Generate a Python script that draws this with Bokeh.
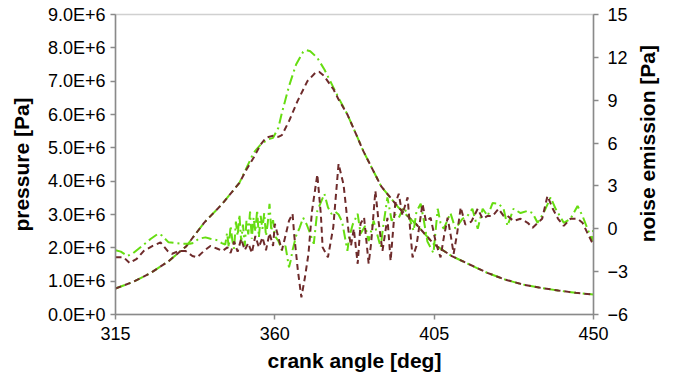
import math
from bokeh.plotting import figure
from bokeh.layouts import row
from bokeh.models import Range1d, LinearAxis, FixedTicker, CustomJSTickFormatter, Label
from bokeh.embed import file_html
from bokeh.resources import INLINE

# ---------------- data ----------------
# cylinder pressure, case A (green dash-dot)
press_a_angle = [315, 320, 325, 330, 335, 340, 345, 350, 352, 354, 356, 358, 359.5, 361, 362, 364,
                 366, 368, 369, 370, 372, 374, 376.6, 378, 380.5, 383.4, 385, 390, 395, 400, 405,
                 410, 415, 420, 425, 430, 435, 440, 445, 450]
press_a = [0.78e6, 0.98e6, 1.25e6, 1.6e6, 2.05e6, 2.75e6, 3.3e6, 3.95e6, 4.4e6, 4.85e6, 5.1e6,
           5.25e6, 5.3e6, 5.6e6, 6.05e6, 6.85e6, 7.5e6, 7.88e6, 7.93e6, 7.9e6, 7.7e6, 7.35e6,
           6.8e6, 6.5e6, 6.0e6, 5.3e6, 4.9e6, 3.85e6, 3.2e6, 2.7e6, 2.1e6, 1.75e6, 1.5e6, 1.25e6,
           1.05e6, 0.9e6, 0.8e6, 0.72e6, 0.65e6, 0.6e6]

# cylinder pressure, case B (brown dashed)
press_b_angle = [315, 320, 325, 330, 335, 340, 345, 350, 352, 354, 356, 357.5, 359.3, 361, 362,
                 364, 366.4, 369.2, 371.5, 372.5, 373.8, 376.6, 378, 380.5, 383.4, 385, 390, 395,
                 400, 405, 410, 415, 420, 425, 430, 435, 440, 445, 450]
press_b = [0.78e6, 0.98e6, 1.25e6, 1.6e6, 2.05e6, 2.75e6, 3.3e6, 3.95e6, 4.35e6, 4.7e6, 5.1e6,
           5.3e6, 5.36e6, 5.33e6, 5.38e6, 5.8e6, 6.4e6, 7.0e6, 7.26e6, 7.28e6, 7.17e6, 6.75e6,
           6.45e6, 6.0e6, 5.3e6, 4.9e6, 3.85e6, 3.2e6, 2.7e6, 2.1e6, 1.75e6, 1.5e6, 1.25e6,
           1.05e6, 0.9e6, 0.8e6, 0.72e6, 0.65e6, 0.6e6]

# noise emission, case A (green dash-dot)
noise_a_angle = [315, 316.5, 318.4, 320, 321, 323, 325, 327, 328, 330, 332, 334, 336, 337, 338.5,
                 340.4, 341.8, 343.8, 345, 346, 346.5, 347, 347.5, 348, 348.5, 349, 349.5, 350,
                 350.5, 351, 351.5, 352, 352.5, 353, 353.5, 354, 354.5, 355, 355.5, 356, 356.5,
                 357, 357.5, 358, 358.5, 359, 359.5, 360, 361, 362, 363, 364, 364.5, 365, 366,
                 367, 368, 369, 370, 371, 372, 374, 375, 376, 377, 378, 379, 380.5, 381, 382,
                 383.4, 384.2, 385.5, 386.5, 387.9, 389.9, 390.5, 391.8, 393, 394, 395, 396.4,
                 397.8, 399.2, 400, 401.2, 402, 403.1, 404.8, 406, 406.8, 407.7, 409.6, 411, 413,
                 414.4, 415.8, 417.3, 418.7, 420.1, 421.5, 423.2, 424.6, 425.7, 427.4, 429.4,
                 431.4, 432.8, 434.2, 435.9, 437.9, 439.3, 441.6, 443.5, 445.5, 446.9, 448.3,
                 449.7, 450]
noise_a = [-1.5, -1.6, -1.9, -1.7, -1.5, -1.1, -0.7, -0.35, -0.45, -0.95, -1.0, -1.05, -1.05,
           -1.0, -0.7, -0.6, -0.7, -0.8, -1.0, -1.1, -0.3, -1.3, 0.2, -0.8, -1.4, 0.5, -0.5, 1.0,
           -0.9, 0.3, -1.2, 0.6, -0.4, 1.2, -0.7, 0.8, -0.2, 1.3, -0.6, 0.9, 0.0, 1.1, -0.5, 0.4,
           1.75, -0.15, 0.6, -0.5, -0.85, -1.5, -1.2, -2.7, -2.2, -1.5, -0.5, 0.07, 0.77, 0.3,
           -0.35, -1.05, 1.26, 2.45, 1.5, 1.05, 1.2, 1.0, 0.5, -1.55, -0.6, 0.3, 1.05, -0.35, 0.2,
           -0.85, 0.56, -1.3, 0.0, 2.2, 0.56, 1.0, 0.77, 1.5, 0.9, -0.15, 1.2, 1.75, 0.7, -0.9,
           -1.7, 1.4, 0.4, 0.0, 1.1, 0.0, 0.7, 0.9, 1.4, 0.0, 1.4, 0.9, 1.8, 1.75, 1.4, 0.2, 1.4,
           1.1, 1.26, 1.1, 0.42, 1.1, 2.2, 1.4, 0.42, 0.7, 1.6, 0.9, 0.0, -0.85, 0.2]

# noise emission, case B (brown dashed)
noise_b_angle = [315, 317.3, 319, 321, 323, 325.5, 327.7, 329.7, 331, 332.8, 334.8, 336.7, 338,
                 340, 341.8, 343.8, 345.2, 346.6, 347.5, 348.5, 349.5, 350.5, 351.5, 352.5,
                 353.5, 354.5, 355.5, 356.5, 357.5, 358.5, 359.5, 360, 361, 362, 363, 364, 365,
                 365.5, 366.5, 367.5, 368.5, 369.5, 370.5, 372, 373, 373.5, 375, 376.5, 377.2,
                 378, 379.4, 380, 380.8, 381.5, 382.3, 383.4, 384.2, 385.2, 386.5, 387.2, 388.4,
                 389.3, 390.4, 391.8, 392.7, 394, 395, 396, 397.5, 398.2, 398.9, 400, 401.7,
                 402.7, 404, 405.5, 406.8, 407.8, 408.8, 409.7, 410.5, 411.5, 412.5, 413.8,
                 415.5, 417.3, 418.7, 420.1, 421.5, 423.2, 424.6, 425.7, 427.4, 429.4, 431.4,
                 432.8, 434.2, 435.5, 437, 438.5, 440, 441.6, 443.5, 445.5, 446.9, 448.3, 449.7,
                 450]
noise_b = [-2.0, -2.0, -2.4, -2.1, -1.55, -1.2, -0.95, -1.55, -1.75, -1.55, -1.55, -1.9, -2.0,
           -1.55, -1.2, -1.4, -1.55, -1.3, -1.7, -0.9, -1.6, -0.7, -1.5, -1.0, -1.7, -0.5, -1.3,
           -0.6, -1.5, -0.3, -1.2, 0.35, -0.6, -1.5, -0.5, 0.56, 1.05, -0.5, -2.9, -4.8, -3.4,
           -1.75, 1.26, 3.8, 1.0, -1.3, -2.0, 0.1, 2.2, 4.55, 3.1, 1.75, -0.15, -1.2, 0.0, -2.45,
           0.35, 0.8, -2.45, -1.0, 2.66, 0.5, -1.55, 0.77, -2.25, 1.75, 2.45, 1.0, 2.2, 0.0, -2.0,
           -1.2, 1.75, 0.5, 0.77, -1.0, -2.0, -0.5, 0.77, -0.5, -1.75, -0.3, 1.5, 0.3, 0.5, 1.4,
           0.7, 0.9, 0.9, 1.4, 0.9, 0.9, 0.55, 0.7, 0.42, 0.07, 0.4, 0.7, 2.3, 1.4, 0.7, 0.2,
           0.7, 0.7, 0.42, -0.3, -1.0, -1.1]

x_ticks = [315, 360, 405, 450]
p_ticks = [0, 1e6, 2e6, 3e6, 4e6, 5e6, 6e6, 7e6, 8e6, 9e6]
n_ticks = [-6, -3, 0, 3, 6, 9, 12, 15]
noise_title = "noise emission [Pa]"

GREEN = "#66dd11"
BROWN = "#6e2b2b"
FONT = "Liberation Sans"

p = figure(width=636, height=374, output_backend="svg", toolbar_location=None,
           x_range=Range1d(315, 450), y_range=Range1d(0, 9e6),
           min_border_left=115, min_border_right=43, min_border_top=14, min_border_bottom=60)
p.extra_y_ranges = {"noise": Range1d(-6, 15)}

p.grid.visible = False
p.outline_line_color = "#d0d0d0"
p.outline_line_width = 1.5
p.background_fill_color = "white"
p.border_fill_color = "white"

# pressure curves
p.line(press_a_angle, press_a, line_color=GREEN, line_width=2, line_dash="10 4 2 4")
p.line(press_b_angle, press_b, line_color=BROWN, line_width=2, line_dash="6 4")
# noise curves
p.line(noise_a_angle, noise_a, line_color=GREEN, line_width=2, line_dash="10 4 2 4",
       y_range_name="noise")
p.line(noise_b_angle, noise_b, line_color=BROWN, line_width=2, line_dash="6 4",
       y_range_name="noise")

def style_axis(ax):
    ax.axis_line_color = "#8a8a8a"
    ax.axis_line_width = 1.5
    ax.major_tick_line_color = "#8a8a8a"
    ax.major_tick_line_width = 1.5
    ax.major_tick_out = 5
    ax.major_tick_in = 0
    ax.minor_tick_line_color = None
    ax.major_label_text_font = FONT
    ax.major_label_text_font_size = "18px"
    ax.major_label_text_color = "black"
    ax.axis_label_text_font = FONT
    ax.axis_label_text_font_size = "21px"
    ax.axis_label_text_font_style = "bold"
    ax.axis_label_text_color = "black"

# x axis
xa = p.xaxis[0]
style_axis(xa)
xa.ticker = FixedTicker(ticks=x_ticks)
xa.axis_label = "crank angle [deg]"
xa.major_label_standoff = 7
xa.axis_label_standoff = 6

# left axis
ya = p.yaxis[0]
style_axis(ya)
ya.ticker = FixedTicker(ticks=p_ticks)
ya.formatter = CustomJSTickFormatter(code="return tick.toExponential(1).replace('e', 'E');")
ya.axis_label = "pressure [Pa]"
ya.major_label_standoff = 5
ya.axis_label_standoff = 12

# right axis
ra = LinearAxis(y_range_name="noise")
style_axis(ra)
ra.ticker = FixedTicker(ticks=n_ticks)
ra.major_label_standoff = 9
p.add_layout(ra, "right")

# narrow side panel carrying the right axis title, reading bottom-to-top
side = figure(width=39, height=374, output_backend="svg", toolbar_location=None,
              x_range=Range1d(0, 39), y_range=Range1d(0, 374),
              x_axis_location=None, y_axis_location=None,
              min_border_left=0, min_border_right=0, min_border_top=0, min_border_bottom=0)
side.grid.visible = False
side.outline_line_color = None
side.background_fill_color = "white"
side.border_fill_color = "white"
side.add_layout(Label(x=11, y=213, text=noise_title, angle=math.pi / 2,
                      text_align="center", text_baseline="middle",
                      text_font=FONT, text_font_size="21px", text_font_style="bold",
                      text_color="black"))

layout = row(p, side)
open("out.html", "w").write(file_html(layout, INLINE))
